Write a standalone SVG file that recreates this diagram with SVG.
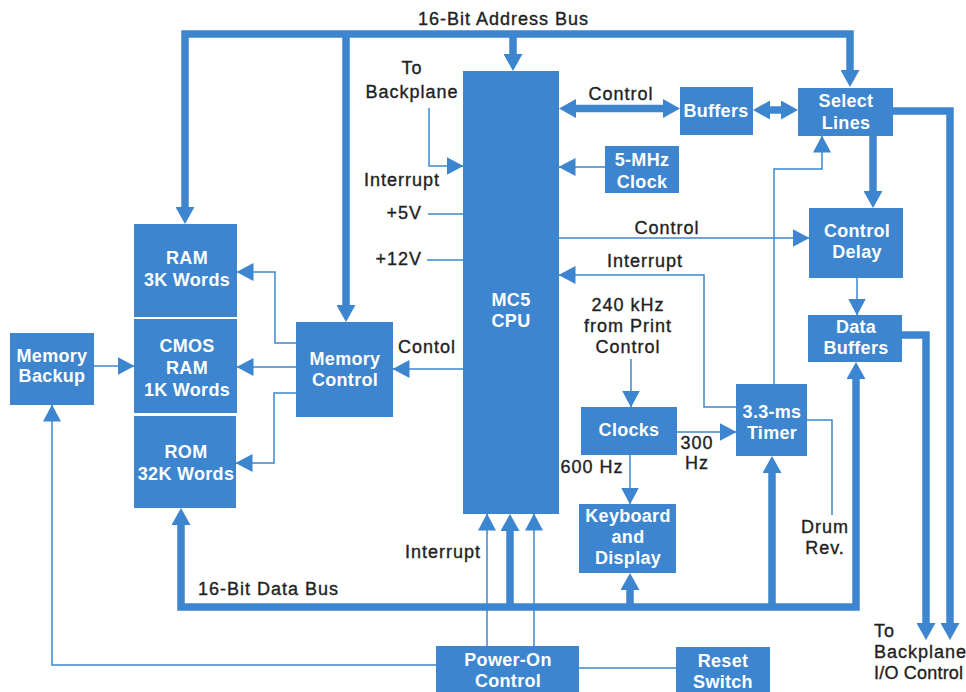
<svg xmlns="http://www.w3.org/2000/svg" width="966" height="692" viewBox="0 0 966 692">
<style>
.box{fill:#3d86cf}
.bt{font-family:"Liberation Sans",Arial,sans-serif;font-weight:bold;font-size:18px;fill:#fff;text-anchor:middle;letter-spacing:0.3px}
.lb{font-family:"Liberation Sans",Arial,sans-serif;font-size:18px;fill:#222;letter-spacing:1px;stroke:#222;stroke-width:0.35}
.c{text-anchor:middle}
.e{text-anchor:end}
.thick{fill:none;stroke:#3d86cf;stroke-width:7.5;stroke-linejoin:miter}
.thin{fill:none;stroke:#3d86cf;stroke-width:1.5}
</style>
<defs>
<marker id="ah" markerUnits="userSpaceOnUse" markerWidth="17" markerHeight="19" refX="9" refY="9.5" orient="auto-start-reverse" viewBox="0 0 17 19">
<path d="M0,0 L17,9.5 L0,19 z" fill="#3d86cf"/>
</marker>
<marker id="at" markerUnits="userSpaceOnUse" markerWidth="17" markerHeight="18" refX="16.5" refY="9" orient="auto-start-reverse" viewBox="0 0 17 18">
<path d="M0,0 L17,9 L0,18 z" fill="#3d86cf"/>
</marker>
</defs>
<rect width="966" height="692" fill="#fff"/>

<g id="connectors">
<path class="thick" d="M850,79 V34 H185 V216" marker-start="url(#ah)" marker-end="url(#ah)"/>
<path class="thick" d="M513,34 V63" marker-end="url(#ah)"/>
<path class="thick" d="M346,34 V314" marker-end="url(#ah)"/>
<path class="thick" d="M567,108.5 H672" marker-start="url(#ah)" marker-end="url(#ah)"/>
<path class="thick" d="M761,110 H790" marker-start="url(#ah)" marker-end="url(#ah)"/>
<path class="thick" d="M873,136 V200" marker-end="url(#ah)"/>
<path class="thick" d="M893,111 H950 V632" marker-end="url(#ah)"/>
<path class="thick" d="M902,335 H926 V632" marker-end="url(#ah)"/>
<path class="thick" d="M181,516 V607 H856 V370" marker-start="url(#ah)" marker-end="url(#ah)"/>
<path class="thick" d="M510,607 V522" marker-end="url(#ah)"/>
<path class="thick" d="M630,607 V581" marker-end="url(#ah)"/>
<path class="thick" d="M772,607 V464" marker-end="url(#ah)"/>
<path class="thin" d="M429,108 V166 H463" marker-end="url(#at)"/>
<path class="thin" d="M428,214 H463"/>
<path class="thin" d="M427,260 H463"/>
<path class="thin" d="M463,369 H393" marker-end="url(#at)"/>
<path class="thin" d="M296,343 H275 V272 H237" marker-end="url(#at)"/>
<path class="thin" d="M296,367 H237" marker-end="url(#at)"/>
<path class="thin" d="M296,393 H274 V463 H236" marker-end="url(#at)"/>
<path class="thin" d="M94,366 H134" marker-end="url(#at)"/>
<path class="thin" d="M436,665 H52 V405" marker-end="url(#at)"/>
<path class="thin" d="M579,668 H676"/>
<path class="thin" d="M605,167 H559" marker-end="url(#at)"/>
<path class="thin" d="M559,238 H809" marker-end="url(#at)"/>
<path class="thin" d="M736,407 H704 V275 H559" marker-end="url(#at)"/>
<path class="thin" d="M631,359 V407" marker-end="url(#at)"/>
<path class="thin" d="M677,432 H736" marker-end="url(#at)"/>
<path class="thin" d="M630,455 V504" marker-end="url(#at)"/>
<path class="thin" d="M774,384 V169 H822 V136" marker-end="url(#at)"/>
<path class="thin" d="M807,420 H832 V515"/>
<path class="thin" d="M857,278 V315" marker-end="url(#at)"/>
<path class="thin" d="M487,646 V514" marker-end="url(#at)"/>
<path class="thin" d="M534,646 V514" marker-end="url(#at)"/>
</g>

<g id="cpu"><rect class="box" x="463" y="71" width="96" height="443"/><text class="bt" x="511" y="306">MC5</text><text class="bt" x="511" y="327">CPU</text></g>
<g id="buffers"><rect class="box" x="680" y="87" width="73" height="48"/><text class="bt" x="716" y="117">Buffers</text></g>
<g id="select-lines"><rect class="box" x="798" y="88" width="95" height="48"/><text class="bt" x="846" y="107">Select</text><text class="bt" x="846" y="129">Lines</text></g>
<g id="clock-5mhz"><rect class="box" x="605" y="146" width="74" height="47"/><text class="bt" x="642" y="166">5-MHz</text><text class="bt" x="642" y="188">Clock</text></g>
<g id="control-delay"><rect class="box" x="809" y="208" width="94" height="70"/><text class="bt" x="857" y="237">Control</text><text class="bt" x="857" y="258">Delay</text></g>
<g id="data-buffers"><rect class="box" x="808" y="315" width="94" height="47"/><text class="bt" x="856" y="333">Data</text><text class="bt" x="856" y="354">Buffers</text></g>
<g id="ram"><rect class="box" x="134" y="224" width="103" height="93"/><text class="bt" x="187" y="264">RAM</text><text class="bt" x="187" y="286">3K Words</text></g>
<g id="cmos-ram"><rect class="box" x="134" y="319" width="103" height="94"/><text class="bt" x="187" y="352">CMOS</text><text class="bt" x="187" y="374">RAM</text><text class="bt" x="187" y="396">1K Words</text></g>
<g id="rom"><rect class="box" x="134" y="416" width="102" height="92"/><text class="bt" x="186" y="458">ROM</text><text class="bt" x="186" y="480">32K Words</text></g>
<g id="memory-backup"><rect class="box" x="10" y="333" width="84" height="72"/><text class="bt" x="52" y="362">Memory</text><text class="bt" x="52" y="382">Backup</text></g>
<g id="memory-control"><rect class="box" x="296" y="322" width="97" height="95"/><text class="bt" x="345" y="365">Memory</text><text class="bt" x="345" y="386">Control</text></g>
<g id="clocks"><rect class="box" x="581" y="407" width="96" height="48"/><text class="bt" x="629" y="436">Clocks</text></g>
<g id="timer"><rect class="box" x="736" y="384" width="71" height="72"/><text class="bt" x="772" y="418">3.3-ms</text><text class="bt" x="772" y="439">Timer</text></g>
<g id="keyboard-display"><rect class="box" x="579" y="504" width="97" height="69"/><text class="bt" x="628" y="522">Keyboard</text><text class="bt" x="628" y="543">and</text><text class="bt" x="628" y="564">Display</text></g>
<g id="power-on-control"><rect class="box" x="436" y="646" width="143" height="50"/><text class="bt" x="508" y="666">Power-On</text><text class="bt" x="508" y="687">Control</text></g>
<g id="reset-switch"><rect class="box" x="676" y="647" width="94" height="50"/><text class="bt" x="723" y="667">Reset</text><text class="bt" x="723" y="688">Switch</text></g>

<g id="labels">
<text class="lb" x="418" y="25">16-Bit Address Bus</text>
<text class="lb c" x="412" y="74">To</text>
<text class="lb c" x="412" y="98">Backplane</text>
<text class="lb c" x="402" y="186">Interrupt</text>
<text class="lb e" x="422" y="219">+5V</text>
<text class="lb e" x="422" y="265">+12V</text>
<text class="lb c" x="427" y="353">Contol</text>
<text class="lb c" x="621" y="100">Control</text>
<text class="lb c" x="667" y="234">Control</text>
<text class="lb c" x="645" y="267">Interrupt</text>
<text class="lb c" x="628" y="311">240 kHz</text>
<text class="lb c" x="628" y="332">from Print</text>
<text class="lb c" x="628" y="353">Control</text>
<text class="lb c" x="592" y="473">600 Hz</text>
<text class="lb c" x="697" y="449">300</text>
<text class="lb c" x="697" y="469">Hz</text>
<text class="lb c" x="825" y="533">Drum</text>
<text class="lb c" x="825" y="554">Rev.</text>
<text class="lb c" x="443" y="558">Interrupt</text>
<text class="lb" x="198" y="595">16-Bit Data Bus</text>
<text class="lb" x="874" y="637">To</text>
<text class="lb" x="874" y="658">Backplane</text>
<text class="lb" x="874" y="679" style="letter-spacing:0.2px">I/O Control</text>
</g>
</svg>
